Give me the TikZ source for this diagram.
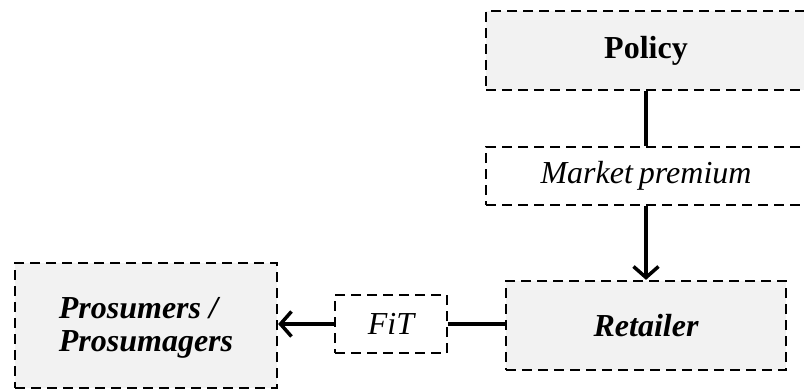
\documentclass[tikz,border=0pt]{standalone}
\usepackage{fontspec}
\setmainfont{Liberation Serif}
\usetikzlibrary{arrows.meta}
\definecolor{boxgray}{HTML}{F2F2F2}
\tikzset{
  txt/.style={inner sep=0pt, font=\fontsize{32}{33}\selectfont},
  dbox/.style={txt, draw=black, line width=2.3pt, dash pattern=on 10pt off 6pt},
  gbox/.style={dbox, fill=boxgray},
  conn/.style={line width=3.5pt},
  arr/.style={conn, -{Straight Barb[length=11pt,width=25pt,line width=3.5pt]}},
}
\begin{document}
\begin{tikzpicture}[x=1pt,y=-1pt]
\useasboundingbox (0,0) rectangle (804,391);
\clip (0,0) rectangle (804,391);
\node[gbox, minimum width=320pt, minimum height=79pt] (policy) at (646,50.5) {\bfseries Policy};
\node[dbox, minimum width=320pt, minimum height=58pt] (mp) at (646,176) {\itshape Market\kern-2pt\ premium};
\node[gbox, minimum width=280pt, minimum height=89pt] (ret) at (646,325.5) {\bfseries\itshape Retailer};
\node[gbox, minimum width=262pt, minimum height=125pt] (pro) at (146,325.5) {};
\node[txt, align=left] (protext) at (146,328) {\bfseries\itshape Prosumers /\\\bfseries\itshape Prosumagers};
\node[dbox, minimum width=112pt, minimum height=58pt] (fit) at (391,324) {\itshape FiT};
\draw[conn] (policy.south) -- (mp.north);
\draw[arr] (mp.south) -- (ret.north);
\draw[conn] (ret.west |- fit.east) -- (fit.east);
\draw[arr] (fit.west) -- (pro.east |- fit.west);
\end{tikzpicture}
\end{document}
